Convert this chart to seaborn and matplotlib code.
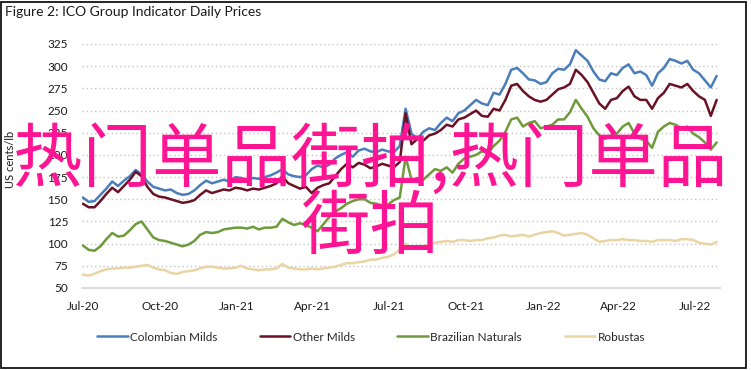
import matplotlib.dates as mdates
import matplotlib.pyplot as plt
import pandas as pd
import seaborn as sns
from matplotlib.patches import Rectangle

# Weekly ICO indicator prices (US cents/lb)
dates = pd.date_range("2020-07-01", periods=109, freq="7D")

colombian_milds = [
    152, 147, 148, 155, 162, 170, 165, 171, 176, 183,
    178, 170, 164, 162, 160, 161, 157, 155, 156, 160,
    166, 171, 168, 170, 172, 170, 175, 174, 172, 174,
    173, 175, 177, 180, 184, 178, 176, 175, 177, 184,
    188, 186, 189, 196, 200, 203, 198, 205, 207, 204,
    203, 206, 204, 203, 210, 252, 224, 218, 226, 230,
    228, 236, 242, 238, 247, 250, 256, 262, 258, 256,
    270, 268, 280, 296, 298, 292, 285, 284, 280, 282,
    292, 297, 296, 302, 318, 312, 306, 294, 285, 283,
    292, 290, 298, 302, 292, 294, 290, 278, 292, 298,
    308, 306, 303, 306, 296, 292, 284, 276, 289,
]

other_milds = [
    145, 141, 141, 148, 156, 163, 158, 165, 172, 181,
    176, 164, 156, 153, 152, 150, 148, 146, 147, 149,
    155, 160, 157, 159, 161, 160, 163, 162, 160, 162,
    161, 163, 165, 168, 176, 168, 165, 162, 164, 157,
    163, 166, 168, 176, 184, 190, 186, 191, 189, 185,
    187, 190, 188, 186, 192, 247, 212, 218, 216, 222,
    224, 228, 234, 232, 240, 242, 246, 250, 244, 243,
    252, 250, 262, 278, 280, 272, 266, 262, 260, 262,
    268, 274, 276, 280, 296, 290, 282, 270, 258, 252,
    262, 264, 272, 277, 266, 262, 262, 252, 264, 270,
    280, 278, 276, 280, 272, 266, 262, 244, 262,
]

brazilian_naturals = [
    98, 93, 92, 97, 105, 112, 108, 109, 115, 122,
    125, 116, 107, 104, 103, 101, 99, 97, 99, 103,
    110, 113, 112, 113, 116, 117, 118, 118, 117, 119,
    116, 118, 118, 119, 128, 124, 121, 123, 121, 118,
    114, 122, 130, 136, 140, 145, 148, 150, 150, 146,
    145, 143, 144, 149, 152, 198, 172, 174, 172, 178,
    184, 182, 186, 180, 190, 196, 198, 200, 204, 202,
    210, 216, 226, 240, 242, 232, 236, 238, 230, 232,
    234, 240, 240, 248, 262, 252, 243, 230, 222, 218,
    222, 224, 232, 236, 224, 218, 216, 208, 226, 232,
    236, 234, 230, 232, 224, 220, 214, 206, 214,
]

robustas = [
    65, 64, 66, 69, 71, 72, 72, 73, 73, 74,
    75, 76, 73, 71, 70, 67, 66, 68, 69, 70,
    72, 74, 74, 73, 72, 72, 73, 75, 72, 71,
    70, 71, 71, 72, 77, 73, 72, 71, 71, 72,
    71, 72, 73, 74, 76, 78, 78, 79, 80, 82,
    82, 84, 85, 88, 93, 100, 95, 96, 97, 99,
    101, 102, 103, 102, 104, 104, 103, 104, 104, 106,
    107, 109, 110, 108, 109, 110, 108, 110, 112, 113,
    114, 112, 109, 110, 111, 112, 110, 106, 102, 103,
    104, 104, 105, 104, 104, 103, 103, 102, 104, 104,
    104, 103, 105, 105, 104, 101, 100, 99, 102,
]

series_names = ["Colombian Milds", "Other Milds", "Brazilian Naturals", "Robustas"]
series_colors = ["#4A7EBB", "#6B1126", "#6E9A3C", "#EBD4A4"]
y_ticks = [50, 75, 100, 125, 150, 175, 200, 225, 250, 275, 300, 325]
x_ticks = ["2020-07-01", "2020-10-01", "2021-01-01", "2021-04-01", "2021-07-01",
           "2021-10-01", "2022-01-01", "2022-04-01", "2022-07-01"]

# Long-form table for seaborn
frames = []
for name, vals in zip(series_names,
                      [colombian_milds, other_milds, brazilian_naturals, robustas]):
    frames.append(pd.DataFrame({"Date": dates, "Price": vals, "Series": name}))
df = pd.concat(frames, ignore_index=True)

sns.set_theme(style="white")
plt.rcParams["font.family"] = ["Lato", "Noto Sans CJK SC", "DejaVu Sans"]

fig = plt.figure(figsize=(7.51, 3.70), dpi=100)
ax = fig.add_axes([82 / 751, 82 / 370, 638 / 751, 244 / 370])

sns.lineplot(
    data=df,
    x="Date",
    y="Price",
    hue="Series",
    hue_order=series_names,
    palette=dict(zip(series_names, series_colors)),
    linewidth=1.8,
    ax=ax,
)

ax.set_ylim(50, 325)
ax.set_xlim(pd.Timestamp("2020-06-30"), pd.Timestamp("2022-07-31"))
ax.set_yticks(y_ticks)
ax.set_xticks(pd.to_datetime(x_ticks))
ax.xaxis.set_major_formatter(mdates.DateFormatter("%b-%y"))
ax.set_xlabel("")
ax.set_ylabel("")

# dotted horizontal gridlines, solid grey baseline
ax.yaxis.grid(True, linestyle=(0, (1, 2)), color="#C4C4C4", linewidth=1)
ax.set_axisbelow(True)
for side in ["left", "top", "right"]:
    ax.spines[side].set_visible(False)
ax.spines["bottom"].set_color("#D6D6D6")
ax.spines["bottom"].set_linewidth(1.2)
ax.spines["bottom"].set_zorder(3)
ax.tick_params(axis="both", length=0, labelsize=8.5, colors="#1a1a1a")
ax.tick_params(axis="y", pad=10)
ax.tick_params(axis="x", pad=9)

# legend under the plot
handles, labels = ax.get_legend_handles_labels()
ax.legend_.remove()
fig.legend(
    handles,
    labels,
    loc="center",
    bbox_to_anchor=(0.494, 0.089),
    ncol=4,
    frameon=False,
    fontsize=8.5,
    handlelength=2.6,
    handletextpad=0.2,
    columnspacing=3.6,
)

fig.text(0.014, 0.568, "US cents/lb", rotation=90, ha="center", va="center",
         fontsize=8, color="#1a1a1a")
fig.text(0.007, 0.967, "Figure 2: ICO Group Indicator Daily Prices",
         ha="left", va="center", fontsize=10, color="#1a1a1a")

# overlay text
fig.text(370 / 751, 1 - 194 / 370, "热门单品街拍,热门单品\n街拍",
         ha="center", va="center", fontsize=50, color="#FF1493",
         family=["Noto Sans CJK SC"], linespacing=0.92, zorder=10)

# frame around the figure
fig.add_artist(Rectangle((1 / 751, 2 / 370), 745 / 751, 366 / 370,
                         transform=fig.transFigure, fill=False,
                         edgecolor="black", linewidth=1.2))

fig.savefig("out.png", dpi=100)
